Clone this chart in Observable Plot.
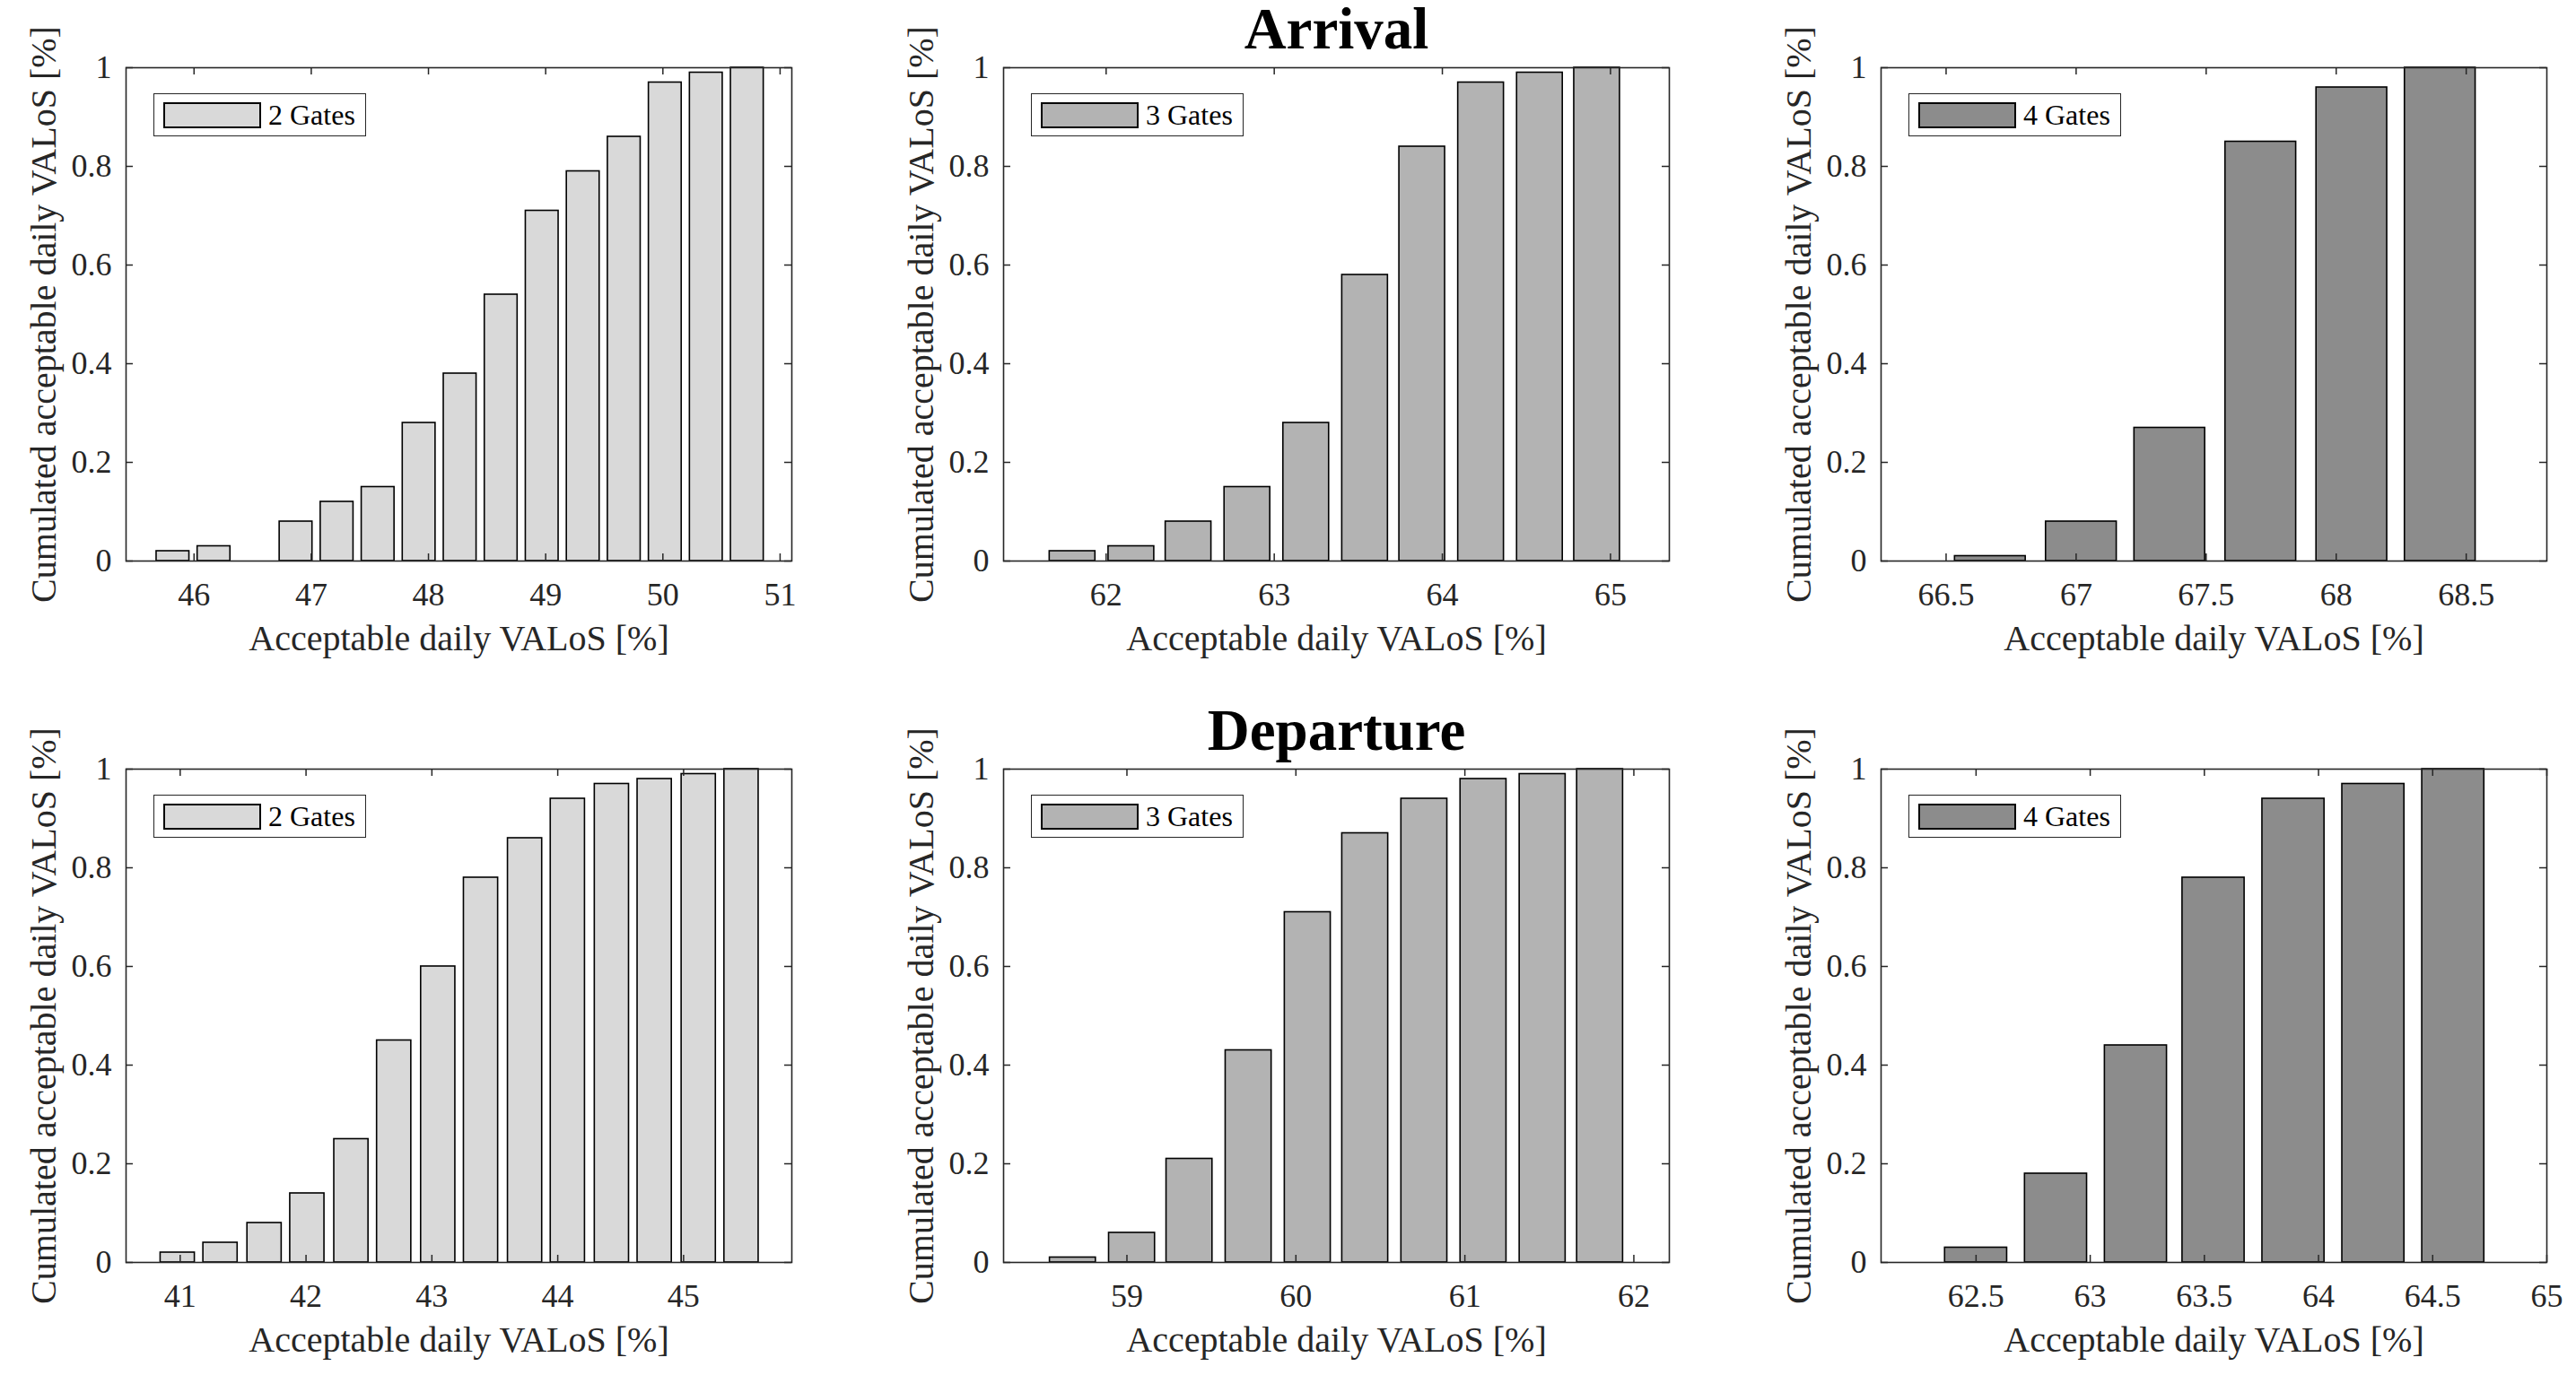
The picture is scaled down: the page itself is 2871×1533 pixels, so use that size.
<!DOCTYPE html>
<html>
<head>
<meta charset="utf-8">
<script src="https://cdn.jsdelivr.net/npm/d3@7"></script>
<script src="https://cdn.jsdelivr.net/npm/@observablehq/plot@0.6"></script>
<style>
  html, body { margin: 0; padding: 0; background: #fff; overflow: hidden; }
  #wrap { position: relative; width: 2871px; height: 1533px; background: #fff; }
  .panel { position: absolute; }
  .panel svg, .panel svg text { font-family: "Liberation Serif", "Times New Roman", Times, serif; }
  .legend { position: absolute; border: 1.5px solid #262626; background: #fff; box-sizing: border-box;
            font-family: "Liberation Serif", "Times New Roman", serif; font-size: 32px; color: #000; }
  .legend .swatch { position: absolute; border: 2px solid #000; box-sizing: border-box; }
  .legend .lab { position: absolute; white-space: nowrap; line-height: 1; }
</style>
</head>
<body>
<div id="wrap"></div>
<script>
// ---------- data ----------
const titles = ["Arrival", "Departure"];
const gateLabels = ["2 Gates", "3 Gates", "4 Gates"];
const gateColors = ["#d9d9d9", "#b3b3b3", "#8c8c8c"];
const xLabel = "Acceptable daily VALoS [%]";
const yLabel = "Cumulated acceptable daily VALoS [%]";
const yTicks = [0, 0.2, 0.4, 0.6, 0.8, 1];

// Arrival, 2 gates
const arr2X = [45.82, 46.17, 46.87, 47.22, 47.57, 47.92, 48.27, 48.62, 48.97, 49.32, 49.67, 50.02, 50.37, 50.72];
const arr2Y = [0.02, 0.03, 0.08, 0.12, 0.15, 0.28, 0.38, 0.54, 0.71, 0.79, 0.86, 0.97, 0.99, 1.0];
const arr2Domain = [45.42, 51.1];
const arr2Ticks = [46, 47, 48, 49, 50, 51];

// Arrival, 3 gates
const arr3X = [61.80, 62.15, 62.49, 62.84, 63.19, 63.54, 63.88, 64.23, 64.58, 64.92];
const arr3Y = [0.02, 0.03, 0.08, 0.15, 0.28, 0.58, 0.84, 0.97, 0.99, 1.0];
const arr3Domain = [61.39, 65.35];
const arr3Ticks = [62, 63, 64, 65];

// Arrival, 4 gates
const arr4X = [66.67, 67.02, 67.36, 67.71, 68.06, 68.40];
const arr4Y = [0.01, 0.08, 0.27, 0.85, 0.96, 1.0];
const arr4Domain = [66.25, 68.81];
const arr4Ticks = [66.5, 67, 67.5, 68, 68.5];

// Departure, 2 gates
const dep2X = [40.98, 41.32, 41.67, 42.01, 42.36, 42.70, 43.05, 43.39, 43.74, 44.08, 44.43, 44.77, 45.12, 45.46];
const dep2Y = [0.02, 0.04, 0.08, 0.14, 0.25, 0.45, 0.60, 0.78, 0.86, 0.94, 0.97, 0.98, 0.99, 1.0];
const dep2Domain = [40.57, 45.86];
const dep2Ticks = [41, 42, 43, 44, 45];

// Departure, 3 gates
const dep3X = [58.68, 59.03, 59.37, 59.72, 60.07, 60.41, 60.76, 61.11, 61.46, 61.80];
const dep3Y = [0.01, 0.06, 0.21, 0.43, 0.71, 0.87, 0.94, 0.98, 0.99, 1.0];
const dep3Domain = [58.27, 62.21];
const dep3Ticks = [59, 60, 61, 62];

// Departure, 4 gates
const dep4X = [62.50, 62.85, 63.20, 63.54, 63.89, 64.24, 64.59];
const dep4Y = [0.03, 0.18, 0.44, 0.78, 0.94, 0.97, 1.0];
const dep4Domain = [62.084, 65.0];
const dep4Ticks = [62.5, 63, 63.5, 64, 64.5, 65];

// ---------- layout ----------
const panels = [
  {row: 0, col: 0, xs: arr2X, ys: arr2Y, domain: arr2Domain, ticks: arr2Ticks, g: 0},
  {row: 0, col: 1, xs: arr3X, ys: arr3Y, domain: arr3Domain, ticks: arr3Ticks, g: 1, title: titles[0]},
  {row: 0, col: 2, xs: arr4X, ys: arr4Y, domain: arr4Domain, ticks: arr4Ticks, g: 2},
  {row: 1, col: 0, xs: dep2X, ys: dep2Y, domain: dep2Domain, ticks: dep2Ticks, g: 0},
  {row: 1, col: 1, xs: dep3X, ys: dep3Y, domain: dep3Domain, ticks: dep3Ticks, g: 1, title: titles[1]},
  {row: 1, col: 2, xs: dep4X, ys: dep4Y, domain: dep4Domain, ticks: dep4Ticks, g: 2}
];

const colStep = 978, rowStep = 782;
const mL = 140, mT = 75, pw = 742, ph = 550;
const tickLen = 8;
const axisColor = "#262626";
const font = "'Liberation Serif', 'Times New Roman', Times, serif";
const wrap = document.getElementById("wrap");

for (const p of panels) {
  const width = p.col === 2 ? 2871 - 2 * colStep : colStep;
  const height = p.row === 0 ? rowStep : 1533 - rowStep;
  const mR = width - mL - pw;
  const mB = height - mT - ph;
  const data = p.xs.map((x, i) => ({x, y: p.ys[i]}));
  let step = Infinity;
  for (let i = 1; i < p.xs.length; i++) step = Math.min(step, p.xs[i] - p.xs[i - 1]);
  const hw = 0.4 * step;
  const fill = gateColors[p.g];

  const marks = [
    Plot.rect(data, {x1: d => d.x - hw, x2: d => d.x + hw, y1: 0, y2: "y", fill, stroke: "#000", strokeWidth: 1.6}),
    // inward ticks on all four sides (MATLAB box style)
    Plot.tickX(p.ticks, {x: d => d, insetTop: ph - tickLen, stroke: axisColor, strokeWidth: 1.5}),
    Plot.tickX(p.ticks, {x: d => d, insetBottom: ph - tickLen, stroke: axisColor, strokeWidth: 1.5}),
    Plot.tickY(yTicks, {y: d => d, insetRight: pw - tickLen, stroke: axisColor, strokeWidth: 1.5}),
    Plot.tickY(yTicks, {y: d => d, insetLeft: pw - tickLen, stroke: axisColor, strokeWidth: 1.5}),
    Plot.frame({stroke: axisColor, strokeWidth: 1.6}),
    Plot.axisX({ticks: p.ticks, tickSize: 0, tickPadding: 24, tickFormat: d => String(d), label: null,
      fontSize: 36, fontFamily: font, color: axisColor}),
    Plot.axisY({ticks: yTicks, tickSize: 0, tickPadding: 16, tickFormat: d => String(d), label: null,
      fontSize: 36, fontFamily: font, color: axisColor}),
    Plot.axisX({ticks: [], tickSize: 0, label: xLabel, labelAnchor: "center", labelOffset: 99, labelArrow: false,
      fontSize: 40, fontFamily: font, color: axisColor}),
    Plot.axisY({ticks: [], tickSize: 0, label: yLabel, labelAnchor: "center", labelOffset: 107, labelArrow: false,
      fontSize: 40, fontFamily: font, color: axisColor})
  ];
  if (p.title) {
    marks.push(Plot.text([p.title], {text: d => d, frameAnchor: "top", dy: -22, lineAnchor: "bottom",
      fontSize: 65, fontWeight: "bold", fontFamily: font, fill: "#000"}));
  }

  const chart = Plot.plot({
    width, height,
    marginLeft: mL, marginTop: mT, marginRight: mR, marginBottom: mB,
    x: {domain: p.domain},
    y: {domain: [0, 1]},
    style: {fontFamily: font, fontSize: "36px", background: "#fff", overflow: "visible", color: axisColor},
    marks
  });

  const holder = document.createElement("div");
  holder.className = "panel";
  holder.style.left = (p.col * colStep) + "px";
  holder.style.top = (p.row * rowStep) + "px";
  holder.style.width = width + "px";
  holder.style.height = height + "px";
  holder.appendChild(chart);

  // legend inside the axes, top-left
  const lg = document.createElement("div");
  lg.className = "legend";
  lg.style.left = (mL + 31) + "px";
  lg.style.top = (mT + 29) + "px";
  lg.style.width = "237px";
  lg.style.height = "48px";
  const sw = document.createElement("div");
  sw.className = "swatch";
  sw.style.left = "10px"; sw.style.top = "9px"; sw.style.width = "109px"; sw.style.height = "29px";
  sw.style.background = fill;
  const lab = document.createElement("div");
  lab.className = "lab";
  lab.style.left = "127px"; lab.style.top = "7px";
  lab.textContent = gateLabels[p.g];
  lg.appendChild(sw); lg.appendChild(lab);
  holder.appendChild(lg);

  wrap.appendChild(holder);
}
</script>
</body>
</html>
